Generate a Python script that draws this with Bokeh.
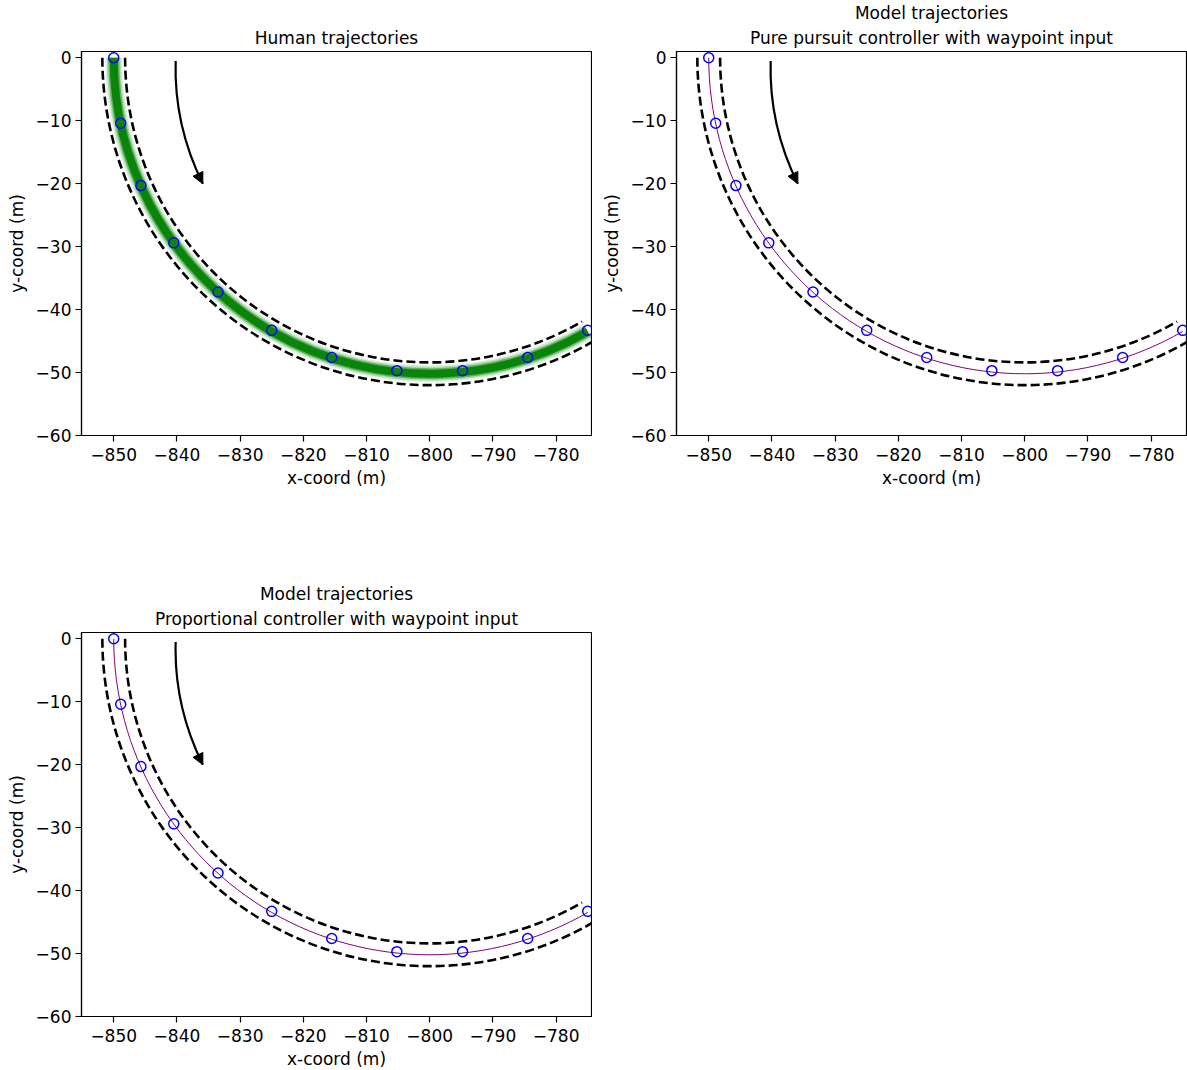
import math
from bokeh.plotting import figure
from bokeh.layouts import column, row
from bokeh.models import Title, FixedTicker, Arrow, NormalHead, Range1d
from bokeh.embed import file_html
from bokeh.resources import INLINE

# ---------------- data ----------------
# waypoints (blue circles)
wp_x = [-850.0, -848.9, -845.7, -840.5, -833.5, -825.0, -815.5, -805.2, -794.8, -784.5, -775.0]
wp_y = [0.0, -10.4, -20.3, -29.4, -37.2, -43.3, -47.6, -49.7, -49.7, -47.6, -43.3]

# road geometry (curve around a centre point)
road_center_x = [-800.0]
road_center_y = [0.0]
road_edge_radii = [48.2, 51.8]
path_radius = 50.0
arc_start_deg = 180.0
arc_end_deg = 300.0

# direction arrow (start, control, end)
arrow_x = [-840.2, -840.5, -835.9]
arrow_y = [-0.5, -10.7, -20.0]

x_ticks = [-850, -840, -830, -820, -810, -800, -790, -780]
y_ticks = [0, -10, -20, -30, -40, -50, -60]
x_limits = (-855.1, -774.4)
y_limits = (-60.0, 1.0)

titles = [
    ["Human trajectories"],
    ["Model trajectories", "Pure pursuit controller with waypoint input"],
    ["Model trajectories", "Proportional controller with waypoint input"],
]

FONT = "DejaVu Sans"
FS = "17px"


def fmt(t):
    return ("\u2212" + str(abs(t))) if t < 0 else str(t)


def make_panel(title_lines, human, left, top, bottom, right):
    p = figure(frame_width=510, frame_height=384,
               min_border_left=left, min_border_top=top,
               min_border_bottom=bottom, min_border_right=right,
               x_range=Range1d(*x_limits), y_range=Range1d(*y_limits),
               output_backend="svg", toolbar_location=None,
               background_fill_color="white", border_fill_color="white")
    p.grid.visible = False
    p.outline_line_color = "black"
    p.outline_line_width = 1.2
    p.outline_line_alpha = 1.0

    for ax, ticks in ((p.xaxis[0], x_ticks), (p.yaxis[0], y_ticks)):
        ax.ticker = FixedTicker(ticks=ticks)
        ax.major_label_overrides = {t: fmt(t) for t in ticks}
        ax.major_label_text_font = FONT
        ax.major_label_text_font_size = FS
        ax.major_label_text_color = "black"
        ax.axis_label_text_font = FONT
        ax.axis_label_text_font_size = FS
        ax.axis_label_text_font_style = "normal"
        ax.axis_label_text_color = "black"
        ax.major_tick_out = 6
        ax.major_tick_in = 0
        ax.minor_tick_out = 0
        ax.minor_tick_in = 0
        ax.axis_line_color = "black"
        ax.axis_line_width = 1.2
        ax.major_tick_line_width = 1.2
    p.xaxis.major_label_standoff = 6
    p.xaxis.axis_label_standoff = 4
    p.yaxis.major_label_standoff = 4
    p.yaxis.axis_label_standoff = 6
    p.xaxis.axis_label = "x-coord (m)"
    p.yaxis.axis_label = "y-coord (m)"

    # stacked titles: the line nearest the frame is added first
    for i, line in enumerate(reversed(title_lines)):
        p.add_layout(Title(text=line, align="center", text_font=FONT,
                           text_font_size=FS, text_font_style="normal",
                           text_color="black", standoff=7 if i == 0 else 0,
                           offset=0), "above")

    a0 = math.radians(arc_start_deg)
    a1 = math.radians(arc_end_deg)

    if human:
        for w, al in ((17, 0.12), (14, 0.2), (11, 0.45), (8, 0.9)):
            p.arc(x=road_center_x, y=road_center_y, radius=path_radius,
                  start_angle=a0, end_angle=a1, line_color="green",
                  line_width=w, line_alpha=al)
    else:
        p.arc(x=road_center_x, y=road_center_y, radius=path_radius,
              start_angle=a0, end_angle=a1, line_color="purple",
              line_width=1.0)

    for r in road_edge_radii:
        p.arc(x=road_center_x, y=road_center_y, radius=r,
              start_angle=a0, end_angle=a1, line_color="black",
              line_width=2.6, line_dash="9 4")

    p.scatter(x=wp_x, y=wp_y, marker="circle", size=10, fill_color=None,
              line_color="blue", line_width=1.5)

    p.quadratic(x0=[arrow_x[0]], y0=[arrow_y[0]], cx=[arrow_x[1]], cy=[arrow_y[1]],
                x1=[arrow_x[2]], y1=[arrow_y[2]], line_color="black", line_width=2.2)
    tx = arrow_x[2] - arrow_x[1]
    ty = arrow_y[2] - arrow_y[1]
    p.add_layout(Arrow(end=NormalHead(size=11, fill_color="black", line_color="black",
                                      line_width=1),
                       x_start=arrow_x[2] - 0.2 * tx, y_start=arrow_y[2] - 0.2 * ty,
                       x_end=arrow_x[2], y_end=arrow_y[2],
                       line_alpha=0.0, line_width=0))
    return p


p1 = make_panel(titles[0], True, left=81, top=51, bottom=75, right=1)
p2 = make_panel(titles[1], False, left=84, top=51, bottom=75, right=1)
p3 = make_panel(titles[2], False, left=81, top=122, bottom=52, right=1)

layout = column(row(p1, p2), p3)

open("out.html", "w").write(file_html(layout, INLINE))
